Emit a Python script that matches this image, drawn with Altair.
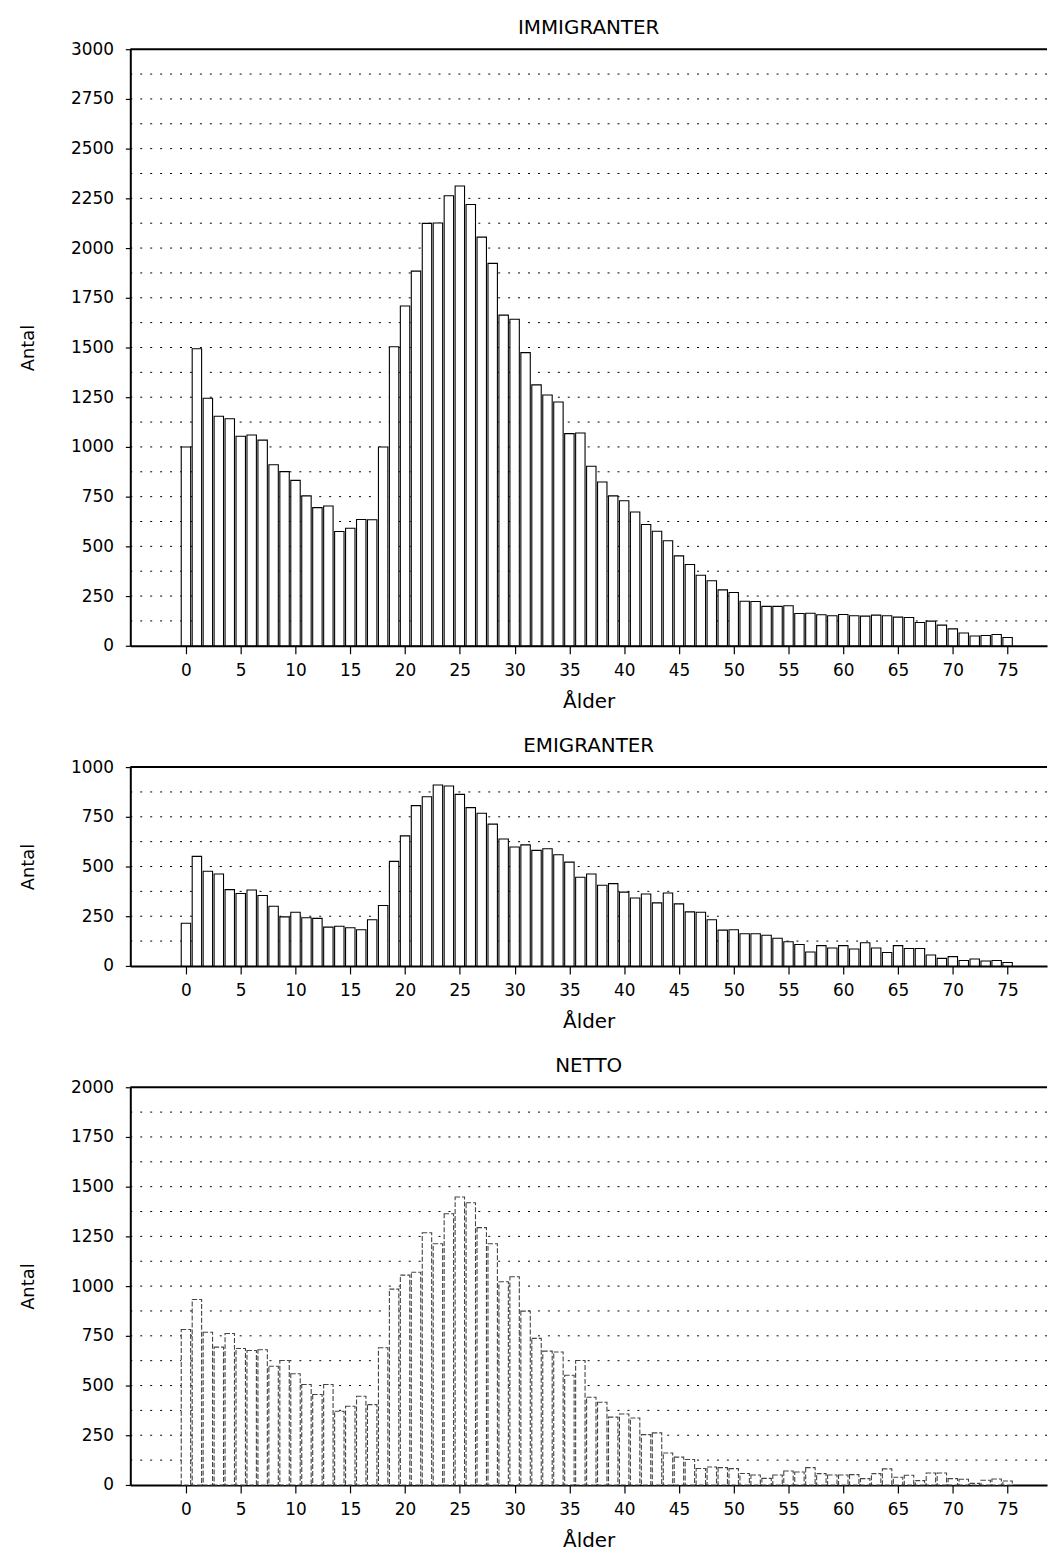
import altair as alt
import pandas as pd

# ---- data ----
ages = list(range(0, 76))

immigranter = [1000, 1494, 1245, 1154, 1142, 1054, 1060, 1034, 910, 876,
               832, 754, 695, 703, 575, 591, 635, 634, 1000, 1504,
               1709, 1884, 2124, 2126, 2263, 2312, 2219, 2055, 1923, 1663,
               1642, 1474, 1312, 1261, 1226, 1067, 1070, 903, 824, 754,
               729, 673, 610, 576, 528, 452, 409, 355, 327, 281,
               268, 224, 223, 198, 198, 201, 162, 164, 156, 151,
               157, 151, 149, 154, 151, 144, 142, 117, 124, 104,
               85, 64, 49, 52, 57, 42]

emigranter = [215, 551, 476, 462, 384, 364, 382, 354, 300, 247,
              270, 242, 239, 195, 200, 192, 182, 232, 304, 526,
              654, 806, 851, 910, 905, 863, 796, 768, 713, 638,
              598, 609, 581, 589, 559, 522, 446, 462, 406, 414,
              371, 342, 362, 317, 367, 312, 272, 270, 232, 180,
              182, 162, 162, 154, 139, 122, 108, 70, 102, 90,
              102, 85, 117, 90, 68, 102, 88, 88, 55, 38,
              47, 27, 35, 25, 27, 17]

netto = [782, 933, 768, 693, 762, 686, 676, 680, 597, 626,
         559, 505, 455, 505, 371, 396, 446, 404, 690, 985,
         1055, 1070, 1268, 1213, 1364, 1448, 1419, 1294, 1213, 1022,
         1047, 874, 737, 673, 669, 552, 626, 441, 416, 341,
         357, 337, 253, 262, 161, 140, 128, 83, 90, 87,
         82, 58, 50, 33, 50, 70, 65, 87, 57, 50,
         50, 52, 32, 57, 81, 39, 49, 22, 60, 60,
         32, 29, 8, 24, 30, 20]

x_ticks = list(range(0, 80, 5))
panel_titles = ["IMMIGRANTER", "EMIGRANTER", "NETTO"]
y_max = [3000, 1000, 2000]
y_label_step = 250
y_grid_step = 125

FONT = "DejaVu Sans"
W = 922
X_DOMAIN = [-5.08, 78.6]
HALF = 0.43
PX_PER_UNIT = 0.2


def panel(values, title, ymax, bar_stroke, bar_dash):
    df = pd.DataFrame({"age": ages, "antal": values})
    df["x0"] = df["age"] - HALF
    df["x1"] = df["age"] + HALF
    grid_df = pd.DataFrame({"antal": list(range(y_grid_step, ymax, y_grid_step))})
    h = int(ymax * PX_PER_UNIT)
    xscale = alt.Scale(domain=X_DOMAIN, nice=False, zero=False)
    yscale = alt.Scale(domain=[0, ymax], nice=False)
    y_axis = alt.Axis(values=list(range(0, ymax + 1, y_label_step)),
                      title="Antal", format="d", tickSize=5,
                      labelPadding=12, titlePadding=33, titleFontSize=18)

    grid = alt.Chart(grid_df).mark_rule(
        color="black", strokeWidth=1, strokeDash=[2, 8]
    ).encode(y=alt.Y("antal:Q", scale=yscale, axis=y_axis))

    bar_kw = dict(fill="white", stroke=bar_stroke, strokeWidth=1.1)
    if bar_dash:
        bar_kw["strokeDash"] = bar_dash
    bars = alt.Chart(df).mark_bar(**bar_kw).encode(
        x=alt.X("x0:Q", scale=xscale,
                axis=alt.Axis(values=x_ticks, title="Ålder", format="d",
                              tickSize=8, labelPadding=9, titlePadding=13,
                              titleFontSize=20, labelFlush=False)),
        x2="x1:Q",
        y=alt.Y("antal:Q", scale=yscale, axis=y_axis),
        y2=alt.datum(0),
    )

    top = alt.Chart(alt.Data(values=[{}])).mark_rule(
        color="black", strokeWidth=2
    ).encode(x=alt.value(0), x2=alt.value(W), y=alt.value(0))

    return alt.layer(grid, bars, top).properties(
        width=W, height=h,
        title=alt.Title(title, fontSize=20, font=FONT, fontWeight="normal",
                        color="black", anchor="middle", offset=2),
    )


p1 = panel(immigranter, panel_titles[0], y_max[0], "black", None)
p2 = panel(emigranter, panel_titles[1], y_max[1], "black", None)
p3 = panel(netto, panel_titles[2], y_max[2], "#444444", [5, 2])

chart = alt.vconcat(
    p1, p2, p3, spacing=25, background="white",
    padding={"left": 11, "top": 6, "right": 5, "bottom": 2},
).configure_view(
    stroke=None
).configure_axis(
    grid=False, domainColor="black", domainWidth=2, tickColor="black",
    tickWidth=1.2, labelColor="black", titleColor="black",
    labelFont=FONT, titleFont=FONT, labelFontSize=17,
    titleFontWeight="normal",
)

chart.save("out.html", embed_options={"renderer": "svg", "actions": False})
